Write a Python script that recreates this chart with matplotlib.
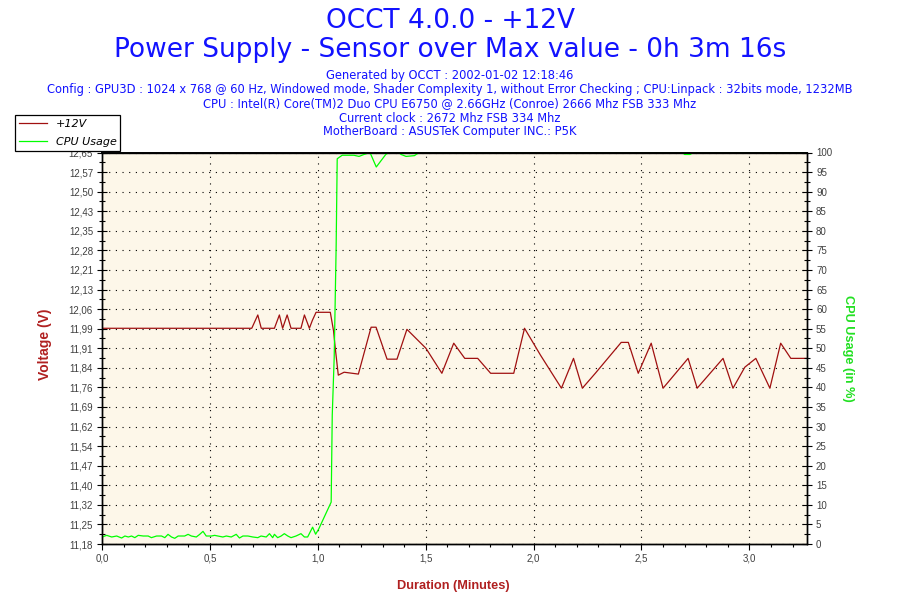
"""
OCCT +12V sensor chart
"""

import numpy as np
import matplotlib
matplotlib.use("Agg")
import matplotlib.pyplot as plt
from matplotlib.ticker import MultipleLocator, FixedLocator, AutoMinorLocator

# voltage series (+12V), time in minutes
volt_time = [0.000, 0.694, 0.722, 0.738, 0.799, 0.822, 0.837, 0.858, 0.876, 0.922,
             0.938, 0.961, 0.975, 0.992, 1.058, 1.073, 1.081, 1.095, 1.122, 1.188,
             1.247, 1.270, 1.321, 1.367, 1.413, 1.501, 1.575, 1.630, 1.681, 1.741,
             1.801, 1.908, 1.958, 2.032, 2.129, 2.185, 2.226, 2.286, 2.406, 2.439,
             2.485, 2.545, 2.600, 2.716, 2.758, 2.878, 2.924, 2.979, 3.030, 3.095,
             3.145, 3.192, 3.267]
volt_value = [11.99, 11.99, 12.04, 11.99, 11.99, 12.04, 11.99, 12.04, 11.99, 11.99,
              12.04, 11.99, 12.02, 12.05, 12.05, 11.98, 11.915, 11.814, 11.825, 11.818,
              11.994, 11.994, 11.874, 11.874, 11.986, 11.915, 11.821, 11.934, 11.877, 11.877,
              11.821, 11.821, 11.99, 11.889, 11.765, 11.877, 11.765, 11.821, 11.937, 11.937,
              11.821, 11.934, 11.765, 11.877, 11.765, 11.877, 11.765, 11.844, 11.877, 11.765,
              11.934, 11.877, 11.877]

# CPU usage series (%)
cpu_time = [0.000, 0.022, 0.045, 0.068, 0.091, 0.106, 0.122, 0.137, 0.152, 0.168,
            0.191, 0.214, 0.229, 0.253, 0.276, 0.291, 0.306, 0.322, 0.337, 0.353,
            0.383, 0.399, 0.414, 0.437, 0.453, 0.468, 0.483, 0.507, 0.522, 0.537,
            0.560, 0.576, 0.599, 0.622, 0.637, 0.653, 0.676, 0.699, 0.722, 0.737,
            0.761, 0.776, 0.791, 0.799, 0.814, 0.830, 0.845, 0.861, 0.876, 0.899,
            0.922, 0.938, 0.953, 0.976, 0.990, 1.004, 1.062, 1.067, 1.076, 1.085,
            1.090, 1.113, 1.167, 1.191, 1.214, 1.242, 1.271, 1.315, 1.330, 1.375,
            1.386, 1.409, 1.448, 1.456, 1.470, 2.690, 2.700, 2.725, 2.740, 3.267]
cpu_value = [1.79, 2.21, 1.79, 2.04, 1.53, 2.04, 1.79, 2.04, 1.62, 2.21,
             2.04, 2.04, 1.62, 2.04, 2.04, 1.62, 2.47, 1.79, 1.45, 2.04,
             2.04, 2.47, 2.04, 1.79, 2.47, 3.23, 2.04, 2.04, 2.21, 2.04,
             1.79, 2.04, 1.79, 2.47, 1.53, 2.04, 2.04, 1.79, 1.62, 2.04,
             1.79, 2.64, 1.62, 2.47, 1.62, 2.04, 2.64, 2.04, 1.62, 2.04,
             2.64, 1.79, 1.79, 4.3, 2.5, 3.8, 10.7, 32.9, 47.7, 75.8,
             98.4, 99.3, 99.3, 99.0, 99.5, 100, 96.3, 99.5, 100, 100,
             99.5, 99.0, 99.2, 99.5, 100, 100, 99.5, 99.5, 100, 100]

volt_ticks = np.linspace(11.18, 12.65, 21)
volt_labels = ["11,18", "11,25", "11,32", "11,40", "11,47", "11,54", "11,62", "11,69",
               "11,76", "11,84", "11,91", "11,99", "12,06", "12,13", "12,21", "12,28",
               "12,35", "12,43", "12,50", "12,57", "12,65"]
time_ticks = [0.0, 0.5, 1.0, 1.5, 2.0, 2.5, 3.0]
time_labels = ["0,0", "0,5", "1,0", "1,5", "2,0", "2,5", "3,0"]

header_lines = [
    "Generated by OCCT : 2002-01-02 12:18:46",
    "Config : GPU3D : 1024 x 768 @ 60 Hz, Windowed mode, Shader Complexity 1, "
    "without Error Checking ; CPU:Linpack : 32bits mode, 1232MB",
    "CPU : Intel(R) Core(TM)2 Duo CPU E6750 @ 2.66GHz (Conroe) 2666 Mhz FSB 333 Mhz",
    "Current clock : 2672 Mhz FSB 334 Mhz",
    "MotherBoard : ASUSTeK Computer INC.: P5K",
]

BLUE = "#1212ff"
RED = "#a01010"
GREEN = "#00ff00"
TICK = "#404040"

fig = plt.figure(figsize=(9, 6), dpi=100)
fig.patch.set_facecolor("white")

# titles
fig.text(0.5, 1 - 21 / 600, "OCCT 4.0.0 - +12V", ha="center", va="center",
         fontsize=19, color=BLUE, family="DejaVu Sans")
fig.text(0.5, 1 - 50 / 600, "Power Supply - Sensor over Max value - 0h 3m 16s",
         ha="center", va="center", fontsize=19, color=BLUE, family="DejaVu Sans")
for i, line in enumerate(header_lines):
    fig.text(0.5, 1 - (76 + i * 14) / 600, line, ha="center", va="center",
             fontsize=8.3, color=BLUE, family="DejaVu Sans")

ax = fig.add_axes([102 / 900, 1 - 544 / 600, 705 / 900, 391.5 / 600])
ax.set_facecolor("#fdf7e9")
ax2 = ax.twinx()

l1, = ax.plot(volt_time, volt_value, color=RED, lw=0.9, label="+12V")
l2, = ax2.plot(cpu_time, cpu_value, color=GREEN, lw=0.9, label="CPU Usage")

ax.set_xlim(0, 3.267)
ax.set_ylim(11.18, 12.65)
ax2.set_ylim(0, 100)

ax.xaxis.set_major_locator(FixedLocator(time_ticks))
ax.set_xticklabels(time_labels)
ax.xaxis.set_minor_locator(MultipleLocator(0.1))
ax.yaxis.set_major_locator(FixedLocator(volt_ticks))
ax.set_yticklabels(volt_labels)
ax.yaxis.set_minor_locator(AutoMinorLocator(2))
ax2.yaxis.set_major_locator(MultipleLocator(5))
ax2.yaxis.set_minor_locator(MultipleLocator(2.5))

for a in (ax, ax2):
    for s in a.spines.values():
        s.set_color("black")
        s.set_linewidth(1.0)
# the 100 % samples sit on the top border and are hidden by it
ax2.spines["top"].set_linewidth(1.4)

ax.tick_params(axis="x", which="major", direction="out", length=4, width=0.8,
               pad=3, labelsize=7, labelcolor=TICK)
ax.tick_params(axis="x", which="minor", direction="out", length=2.5, width=0.8)
ax.tick_params(axis="y", which="major", direction="inout", length=7, width=0.8,
               pad=3, labelsize=7, labelcolor=TICK)
ax.tick_params(axis="y", which="minor", direction="inout", length=4, width=0.8)
ax2.tick_params(axis="y", which="major", direction="inout", length=7, width=0.8,
                pad=3, labelsize=7, labelcolor=TICK)
ax2.tick_params(axis="y", which="minor", direction="inout", length=4, width=0.8)
for lbl in ax.get_xticklabels() + ax.get_yticklabels() + ax2.get_yticklabels():
    lbl.set_family("Liberation Sans")

ax.grid(which="major", color="black", linestyle=(0, (1, 5)), linewidth=0.8)

ax.set_ylabel("Voltage (V)", color="#b02020", fontsize=10, fontweight="bold",
              family="Liberation Sans")
ax.yaxis.set_label_coords(-0.071, 0.51)
ax2.set_ylabel("CPU Usage (in %)", color="#22e022", fontsize=9.2, fontweight="bold",
               family="Liberation Sans", rotation=270, va="center")
ax2.yaxis.set_label_coords(1.058, 0.5)
ax.set_xlabel("Duration (Minutes)", color="#b02020", fontsize=9.2, fontweight="bold",
              family="Liberation Sans")
ax.xaxis.set_label_coords(0.498, -0.092)

leg = fig.legend(handles=[l1, l2], labels=["+12V", "CPU Usage"], loc="upper left",
                 bbox_to_anchor=(15 / 900, 1 - 115 / 600), borderaxespad=0,
                 fancybox=False, framealpha=1, facecolor="white", edgecolor="black",
                 prop={"style": "italic", "size": 8, "family": "DejaVu Sans"},
                 handlelength=2.5, handletextpad=0.8, borderpad=0.35,
                 labelspacing=0.75)
leg.get_frame().set_linewidth(0.9)
leg.set_zorder(10)

fig.savefig("out.png", dpi=100)
